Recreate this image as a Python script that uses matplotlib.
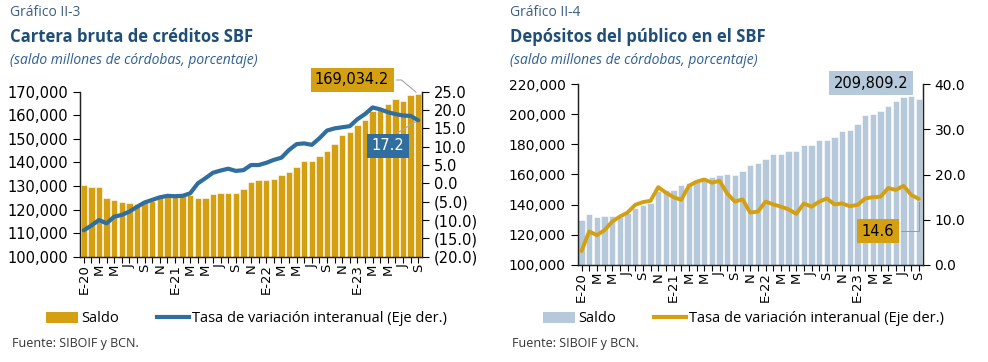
import matplotlib
matplotlib.use('Agg')
import matplotlib.pyplot as plt
from matplotlib.ticker import FuncFormatter
from matplotlib.patches import Patch
from matplotlib.lines import Line2D
import numpy as np

# meses: enero 2020 a septiembre 2023
tick_labels = ['E-20', 'M', 'M', 'J', 'S', 'N',
               'E-21', 'M', 'M', 'J', 'S', 'N',
               'E-22', 'M', 'M', 'J', 'S', 'N',
               'E-23', 'M', 'M', 'J', 'S']

creditos_saldo = [130300, 129700, 129700, 125000, 124000, 123300, 122900, 122300, 123000,
                  123700, 125400, 125700, 125700, 125800, 126000, 125000, 125000, 126600,
                  127100, 127100, 127100, 128600, 131900, 132500, 132500, 133100, 134600,
                  135800, 137900, 140500, 140500, 142600, 144800, 147900, 151500, 152700,
                  155800, 157900, 162000, 162500, 164900, 167000, 166000, 168500, 169034.2]
creditos_tasa = [-12.8, -11.5, -10.0, -10.9, -9.1, -8.6, -7.7, -6.4, -5.2, -4.5, -3.8,
                 -3.4, -3.5, -3.4, -2.7, 0.0, 1.4, 2.9, 3.5, 4.0, 3.4, 3.6, 5.0, 5.0,
                 5.6, 6.4, 7.0, 9.1, 10.7, 10.9, 10.5, 12.3, 14.4, 15.0, 15.3, 15.6,
                 17.5, 18.9, 20.7, 20.2, 19.4, 18.9, 18.5, 18.4, 17.2]

depositos_saldo = [129800, 134000, 131600, 132500, 132500, 132000, 134300, 138000, 139800,
                   141300, 149300, 149700, 149700, 153000, 154600, 156400, 157900, 158100,
                   159500, 160200, 159600, 162300, 166300, 167800, 170300, 173600, 173600,
                   175600, 175600, 179600, 179600, 182900, 182900, 184700, 188900, 189500,
                   193700, 199300, 200400, 202100, 205400, 208600, 211200, 212100, 209809.2]
depositos_tasa = [3.1, 7.4, 6.6, 7.7, 9.6, 10.7, 11.6, 13.3, 13.9, 14.2, 17.2, 16.0, 15.0,
                  14.4, 17.5, 18.4, 18.9, 18.2, 18.6, 15.8, 14.0, 14.5, 11.6, 11.8, 14.0,
                  13.4, 12.9, 12.3, 11.3, 13.6, 12.9, 14.0, 14.7, 13.4, 13.6, 13.0, 13.3,
                  14.7, 15.0, 15.1, 17.0, 16.6, 17.5, 15.5, 14.6]

GOLD = '#D4A011'
BLUE = '#2F6E9E'
LIGHT = '#B5C9DB'
TITLE = '#1F4E79'
W, H = 988, 362

TFONT = 'Open Sans'


def fx(x):
    return x / W


def fy(y):
    return 1 - y / H


def paren(v, pos):
    if v < 0:
        return f'({abs(v):.1f})'
    return f'{v:.1f}'


def panel(fig, rect, saldo, tasa, bar_c, line_c, lw, ylim1, step1, ylim2, step2, fs):
    ax = fig.add_axes(rect)
    x = np.arange(len(saldo))
    ax.bar(x, saldo, width=0.82, color=bar_c, edgecolor='white', linewidth=0.4)
    ax.set_xlim(-0.5, len(saldo) - 0.5)
    ax.set_ylim(*ylim1)
    ax.set_yticks(np.arange(ylim1[0], ylim1[1] + 1, step1))
    ax.yaxis.set_major_formatter(FuncFormatter(lambda v, p: f'{v:,.0f}'))
    ax.set_xticks(x)
    labs = [''] * len(saldo)
    for i, t in enumerate(tick_labels):
        labs[2 * i] = t
    ax.set_xticklabels(labs, rotation=90, fontsize=9.5)
    ax.tick_params(axis='x', length=4, width=0.8, pad=1)
    ax.tick_params(axis='y', labelsize=fs, length=5, width=0.8)
    ax.spines['top'].set_visible(False)
    ax2 = ax.twinx()
    ax2.plot(x, tasa, color=line_c, linewidth=lw, solid_capstyle='round')
    ax2.set_ylim(*ylim2)
    ax2.set_yticks(np.arange(ylim2[0], ylim2[1] + 0.01, step2))
    ax2.yaxis.set_major_formatter(FuncFormatter(paren))
    ax2.tick_params(axis='y', labelsize=fs, length=5, width=0.8)
    ax2.spines['top'].set_visible(False)
    for a in (ax, ax2):
        for s in a.spines.values():
            s.set_color('#222222')
            s.set_linewidth(0.9)
    return ax, ax2


fig = plt.figure(figsize=(W / 100, H / 100), dpi=100)

# ---- Grafico II-3
ax, ax2 = panel(fig, [fx(80), fy(256.7), fx(342), 165 / H], creditos_saldo, creditos_tasa,
                GOLD, BLUE, 3.0, (100000, 170000), 10000, (-20, 25), 5, 10.5)
n = len(creditos_saldo) - 1
ax.annotate(f'{creditos_saldo[-1]:,.1f}', xy=(n, creditos_saldo[-1]), xytext=(352, H - 80),
            textcoords='figure pixels', fontsize=10.5, ha='center', va='center',
            bbox=dict(boxstyle='square,pad=0.3', fc=GOLD, ec='none'),
            arrowprops=dict(arrowstyle='-', color='#999999', lw=0.7, relpos=(1, 0.5),
                            connectionstyle='angle,angleA=0,angleB=140,rad=0'),
            annotation_clip=False)
ax2.annotate(f'{creditos_tasa[-1]:.1f}', xy=(n, creditos_tasa[-1]), xytext=(388, H - 146),
             textcoords='figure pixels', fontsize=10.5, color='white',
             ha='center', va='center', zorder=5,
             bbox=dict(boxstyle='square,pad=0.3', fc=BLUE, ec='none'),
             arrowprops=dict(arrowstyle='-', color='#aaaaaa', lw=0.8, relpos=(0.5, 1)),
             annotation_clip=False)

# ---- Grafico II-4
bx, bx2 = panel(fig, [fx(577.7), fy(265), fx(345), 181 / H], depositos_saldo, depositos_tasa,
                LIGHT, GOLD, 2.8, (100000, 220000), 20000, (0, 40), 10, 10)
bx.annotate(f'{depositos_saldo[-1]:,.1f}', xy=(n, depositos_saldo[-1]), xytext=(871, H - 83),
            textcoords='figure pixels', fontsize=10.5, ha='center', va='center',
            bbox=dict(boxstyle='square,pad=0.3', fc=LIGHT, ec='none'),
            annotation_clip=False)
bx2.annotate(f'{depositos_tasa[-1]:.1f}', xy=(n, depositos_tasa[-1]), xytext=(878, H - 231),
             textcoords='figure pixels', fontsize=10.5, ha='center', va='center',
             bbox=dict(boxstyle='square,pad=0.3', fc=GOLD, ec='none'),
             arrowprops=dict(arrowstyle='-', color='#999999', lw=0.7, relpos=(1, 0.5),
                             connectionstyle='angle,angleA=0,angleB=90,rad=0'),
             annotation_clip=False)

# ---- titulos
for x0, num, tit in [(10, 'Gráfico II-3', 'Cartera bruta de créditos SBF'),
                     (510, 'Gráfico II-4', 'Depósitos del público en el SBF')]:
    fig.text(fx(x0), fy(13), num, fontsize=10, color='#3C5F82', family=TFONT, va='center')
    fig.text(fx(x0), fy(37), tit, fontsize=12, color=TITLE, family=TFONT,
             fontweight='bold', va='center')
    fig.text(fx(x0), fy(61), '(saldo millones de córdobas, porcentaje)', fontsize=10,
             color='#2F5F8F', family=TFONT, style='italic', va='center')
    fig.text(fx(x0 + 2), fy(344), 'Fuente: SIBOIF y BCN.', fontsize=9, color='#333333',
             family=TFONT, va='center')

# ---- leyendas
for x0, bc, lc in [(33, GOLD, BLUE), (530, LIGHT, GOLD)]:
    h = [Patch(fc=bc, ec='none'), Line2D([0], [0], color=lc, lw=3)]
    fig.legend(h, ['Saldo', 'Tasa de variación interanual (Eje der.)'],
               loc='center left', bbox_to_anchor=(fx(x0), fy(319)), ncol=2, frameon=False,
               prop={'family': TFONT, 'size': 10.5}, handlelength=2.2,
               handleheight=0.7, handletextpad=0.2, columnspacing=2.6)

fig.savefig('out.png', dpi=100)
